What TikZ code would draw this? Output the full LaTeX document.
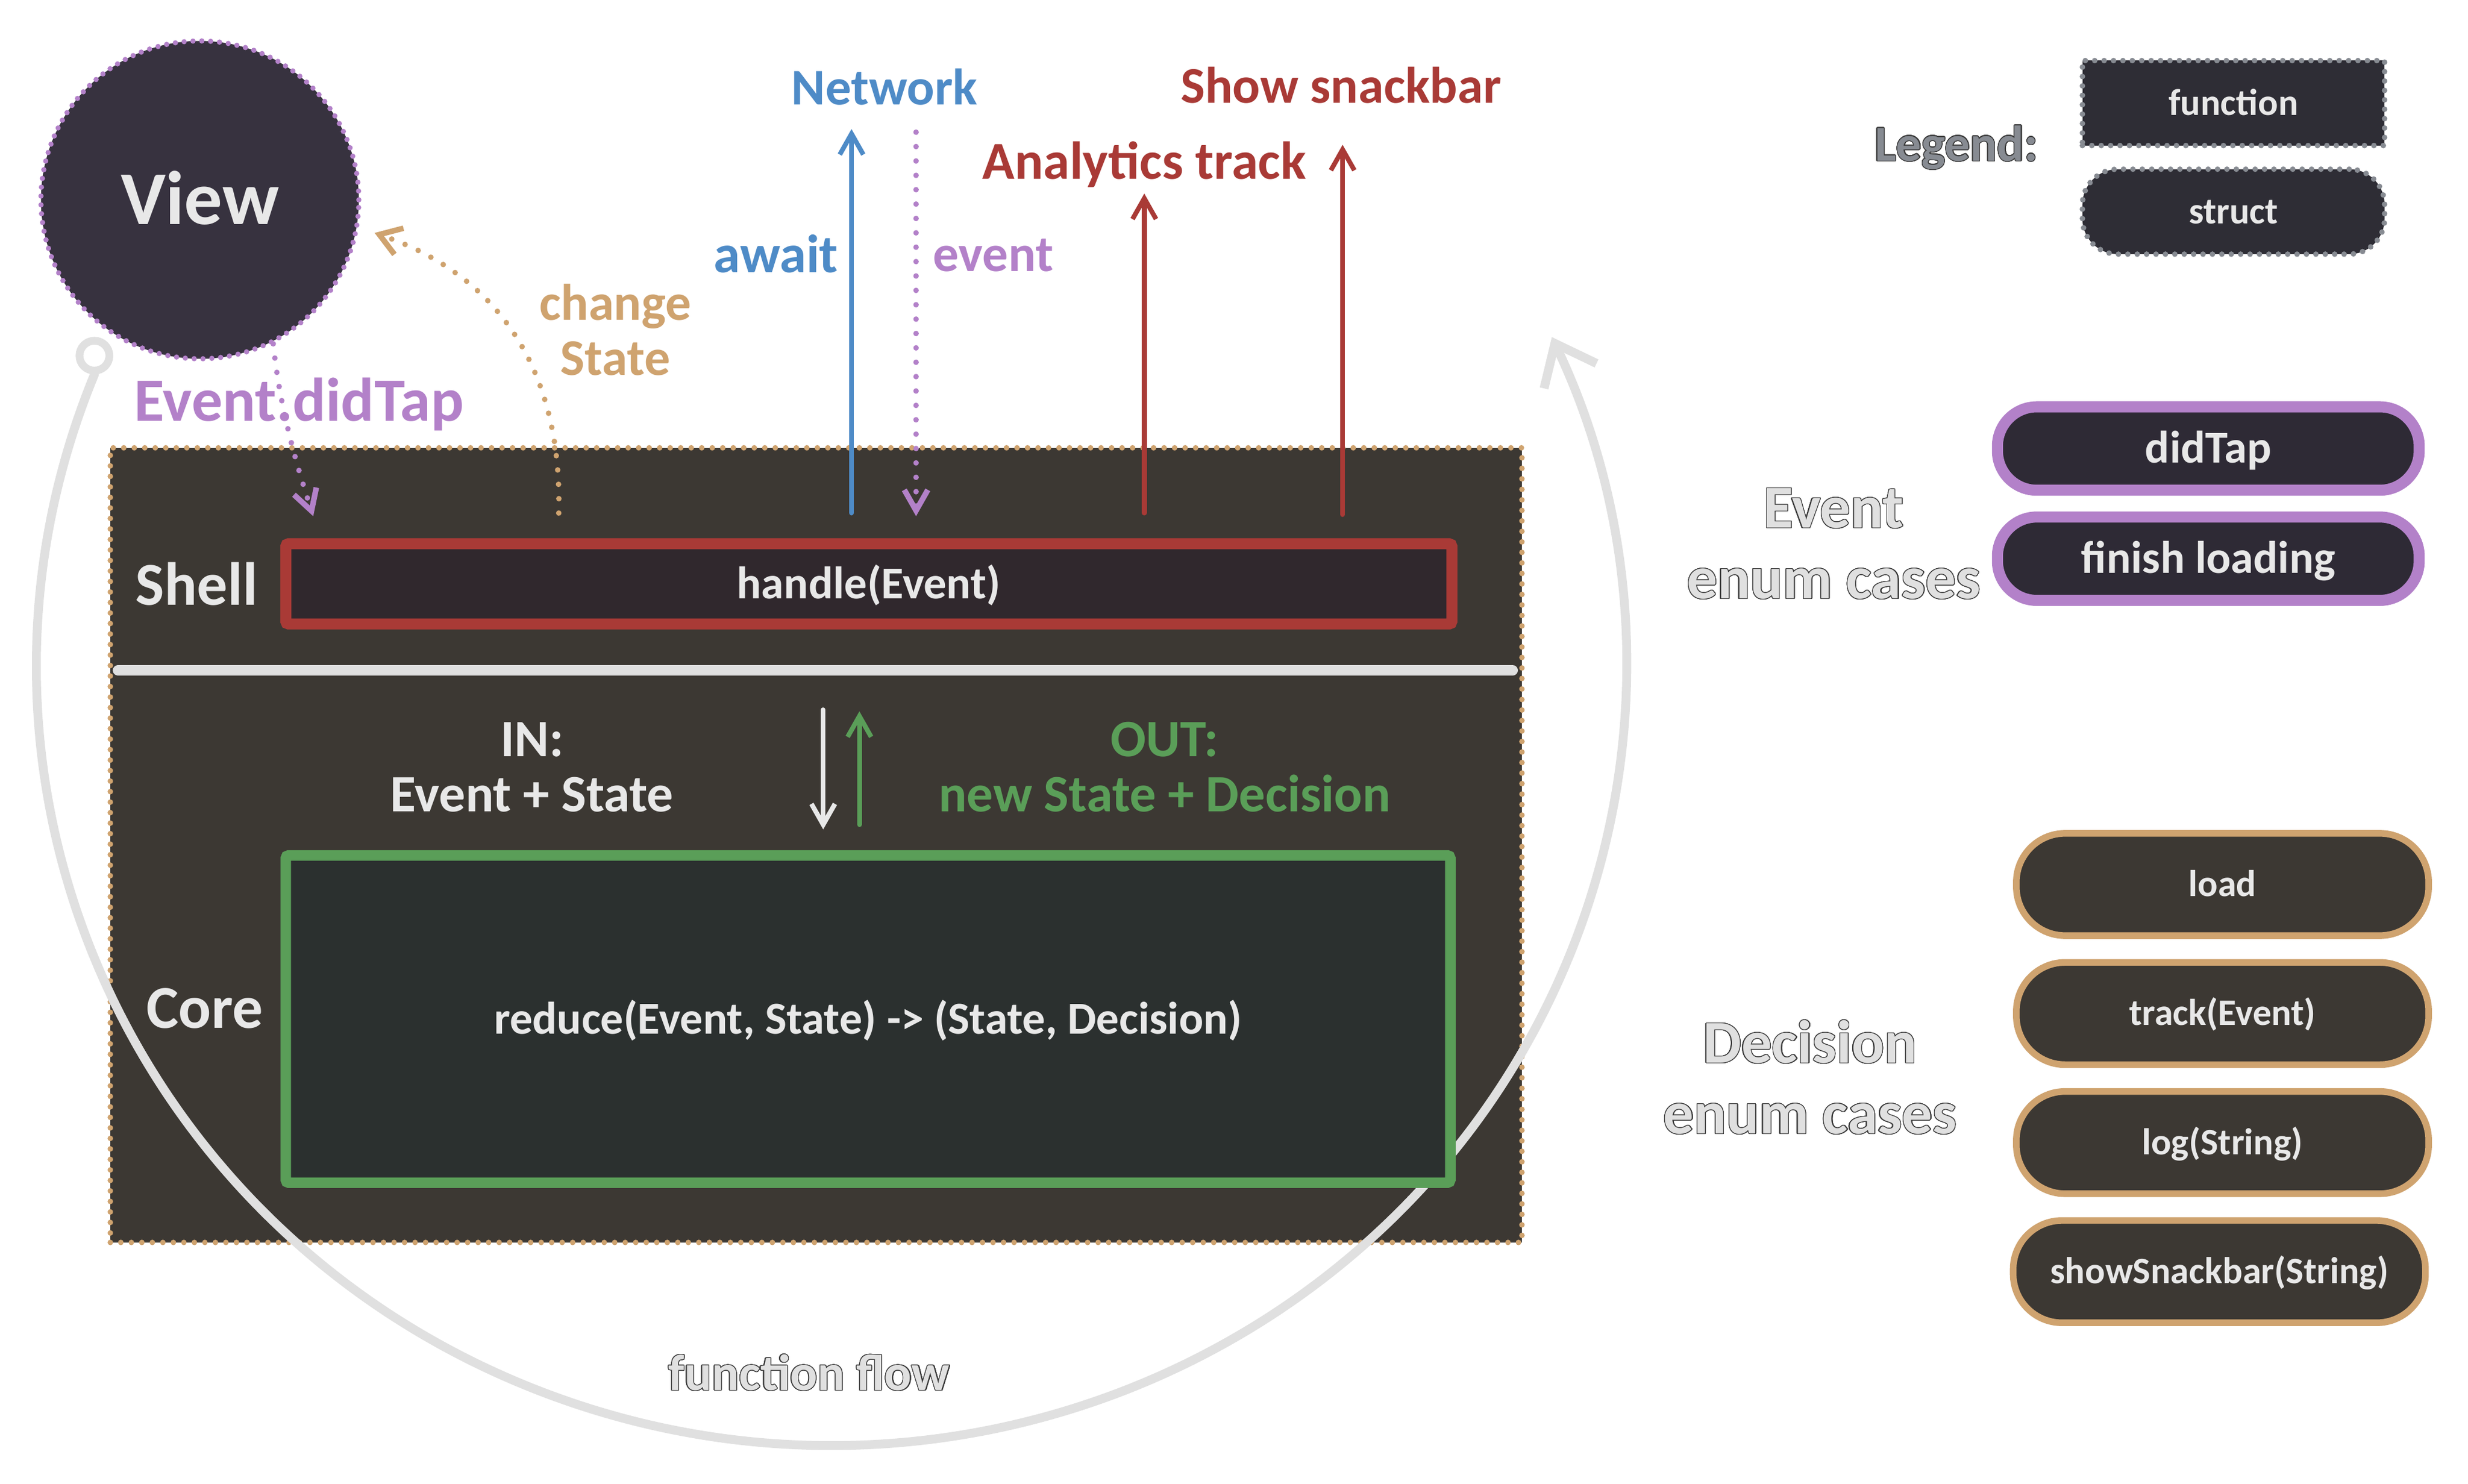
\documentclass[tikz,border=0pt]{standalone}
\usepackage{fontspec}
\setmainfont{Carlito}
\usepackage[copies]{contour}
\contourlength{0.28pt}
\contournumber{24}
\usetikzlibrary{arrows.meta}
\definecolor{viewfill}{HTML}{37323F}
\definecolor{vpurple}{HTML}{B381C9}
\definecolor{boxfill}{HTML}{3C3833}
\definecolor{cochre}{HTML}{CFA36F}
\definecolor{cred}{HTML}{A93A36}
\definecolor{cgreen}{HTML}{5A9E58}
\definecolor{cblue}{HTML}{4E8BC7}
\definecolor{lgray}{HTML}{E0E0E0}
\definecolor{txt}{HTML}{E8E8E8}
\definecolor{leggray}{HTML}{878B92}
\definecolor{shellfill}{HTML}{30282D}
\definecolor{corefill}{HTML}{2B302F}
\definecolor{legfill}{HTML}{2E2D35}
\definecolor{evfill}{HTML}{2E2A35}
\definecolor{outl}{HTML}{3A3A3A}
\tikzset{
  lbl/.style={inner sep=0pt,
    /utils/exec={\pgfmathsetlengthmacro\lblh{0.8*#1pt}\pgfmathsetlengthmacro\lbld{0.16*#1pt}},
    text height=\lblh, text depth=\lbld, font=\bfseries\fontsize{#1}{#1}\selectfont},
  bigtxt/.style={lbl=27.5, text=txt},
  head/.style={lbl=18.6},
  lane/.style={lbl=22, text=txt},
  med/.style={lbl=16.5, text=txt},
  small/.style={lbl=13.5, text=txt},
  iotxt/.style={lbl=19},
  enumtxt/.style={lbl=22, text=lgray},
  flowtxt/.style={lbl=18.4, text=lgray},
  legtxt/.style={lbl=18.2, text=leggray},
  bdots/.style={line cap=round, dash pattern=on 0pt off 3.2pt},
  viewc/.style={circle, minimum size=4.04cm, inner sep=0pt, fill=viewfill, draw=vpurple, line width=1.9pt, bdots, bigtxt},
  mainbox/.style={rectangle, minimum width=17.94cm, minimum height=10.1cm, fill=boxfill, draw=cochre, line width=2pt, line cap=round, dash pattern=on 0pt off 3.8pt},
  shellbox/.style={rectangle, minimum width=14.82cm, minimum height=1.02cm, fill=shellfill, draw=cred, line width=4pt, rounded corners=1pt, med},
  corebox/.style={rectangle, minimum width=14.8cm, minimum height=4.16cm, fill=corefill, draw=cgreen, line width=3.8pt, rounded corners=1pt, med},
  legbox/.style={rectangle, minimum width=3.84cm, minimum height=1.08cm, fill=legfill, draw=leggray, line width=2pt, line cap=round, dash pattern=on 0pt off 3.4pt, small},
  evpill/.style={rectangle, rounded corners=0.5cm, minimum width=5.36cm, minimum height=1.06cm, fill=evfill, draw=vpurple, line width=4pt, med},
  decpill/.style={rectangle, rounded corners=0.62cm, minimum width=5.24cm, minimum height=1.3cm, fill=boxfill, draw=cochre, line width=2.4pt, small},
  vee/.style={-{Straight Barb[length=7.5pt,width=8.5pt]}},
  solidarrow/.style={line width=1.7pt, line cap=round, vee},
  dotarrow/.style={line width=2pt, line cap=round, dash pattern=on 0pt off 5.2pt, vee},
  flowline/.style={line width=3.2pt, draw=lgray, line cap=round, -{Straight Barb[length=13pt,width=21pt]}},
}
\begin{document}
\begin{tikzpicture}[x=0.02cm, y=-0.02cm]
\useasboundingbox[fill=white] (0,0) rectangle (1568,942.6);

% main shell/core container
\node[mainbox] (main) at (518.5,537) {};

% view
\node[viewc] (view) at (127,127) {View};

% function flow arc
\node[circle, draw=lgray, line width=2.8pt, minimum size=0.38cm, inner sep=0pt, fill=white] (fdot) at (60,226) {};
\draw[flowline] (fdot.south) arc[start angle=202, end angle=-25, x radius=505, y radius=495];
\node[flowtxt] (flowlbl) at (514,873) {\contour{outl}{function flow}};

% shell
\node[lane] (shelllbl) at (125,372) {Shell};
\node[shellbox] (shell) at (552,371) {handle(Event)};

% separator
\coordinate (sepL) at (75,426);
\coordinate (sepR) at (961,426);
\draw[line width=3.8pt, lgray, line cap=round] (sepL) -- (sepR);

% core
\node[lane] (corelbl) at (130,641) {Core};
\node[corebox] (core) at (551.5,647.5) {reduce(Event, State) -> (State, Decision)};

\node[iotxt, text=txt] (inlbl) at (338,470) {IN:};
\node[iotxt, text=txt] (inval) at (338,505) {Event + State};
\node[iotxt, text=cgreen] (outlbl) at (740,470) {OUT:};
\node[iotxt, text=cgreen] (outval) at (740,505) {new State + Decision};
\coordinate (inTop) at (523,451);
\coordinate (inBot) at (523,527);
\coordinate (outBot) at (546,524);
\coordinate (outTop) at (546,452);
\draw[solidarrow, txt] (inTop) -- (inBot);
\draw[solidarrow, cgreen] (outBot) -- (outTop);

% top arrows
\coordinate (netBot) at (541,326);
\coordinate (netTop) at (541,82);
\coordinate (evTop) at (582,84);
\coordinate (evBot) at (582,328);
\coordinate (anaBot) at (727,326);
\coordinate (anaTop) at (727,123);
\coordinate (snkBot) at (853,327);
\coordinate (snkTop) at (853,92);
\draw[solidarrow, cblue] (netBot) -- (netTop);
\draw[dotarrow, vpurple] (evTop) -- (evBot);
\draw[solidarrow, cred] (anaBot) -- (anaTop);
\draw[solidarrow, cred] (snkBot) -- (snkTop);
\node[head, text=cblue] (netlbl) at (562,56) {Network};
\node[lbl=19.5, text=cblue] (awaitlbl) at (493,162) {await};
\node[head, text=vpurple] (eventlbl) at (631,162) {event};
\node[lbl=19.3, text=cred] (analbl) at (727,103) {Analytics track};
\node[head, text=cred] (snklbl) at (852,55) {Show snackbar};

% view arrows
\coordinate (tapEnd) at (199,328);
\draw[dotarrow, vpurple] (view.-63) .. controls (178,262) and (190,300) .. (tapEnd);
\node[lbl=22.3, text=vpurple] (taplbl) at (190,255) {Event.didTap};
\coordinate (chgStart) at (355,326);
\coordinate (chgEnd) at (238,148);
\draw[dotarrow, cochre, -{Straight Barb[length=7.5pt,width=10pt]}] (chgStart) .. controls (357,245) and (325,178) .. (chgEnd);
\node[head, text=cochre] (chg1) at (391,193) {change};
\node[head, text=cochre] (chg2) at (391,228) {State};

% legend
\node[legtxt] (leglbl) at (1243,92) {\contour{outl}{Legend:}};
\node[legbox] (legfn) at (1419,65.5) {function};
\node[legbox, rounded corners=0.45cm] (legst) at (1419,134.5) {struct};

% event enum
\node[enumtxt] (evlbl1) at (1165,323) {\contour{outl}{Event}};
\node[enumtxt] (evlbl2) at (1165,368) {\contour{outl}{enum cases}};
\node[evpill] (didtap) at (1403,285) {didTap};
\node[evpill] (finish) at (1403,355) {finish loading};

% decision enum
\node[enumtxt] (declbl1) at (1150,663) {\contour{outl}{Decision}};
\node[enumtxt] (declbl2) at (1150,708) {\contour{outl}{enum cases}};
\node[decpill] (dload) at (1412,562) {load};
\node[decpill] (dtrack) at (1412,644) {track(Event)};
\node[decpill] (dlog) at (1412,726) {log(String)};
\node[decpill] (dsnack) at (1410,808) {showSnackbar(String)};
\end{tikzpicture}
\end{document}
